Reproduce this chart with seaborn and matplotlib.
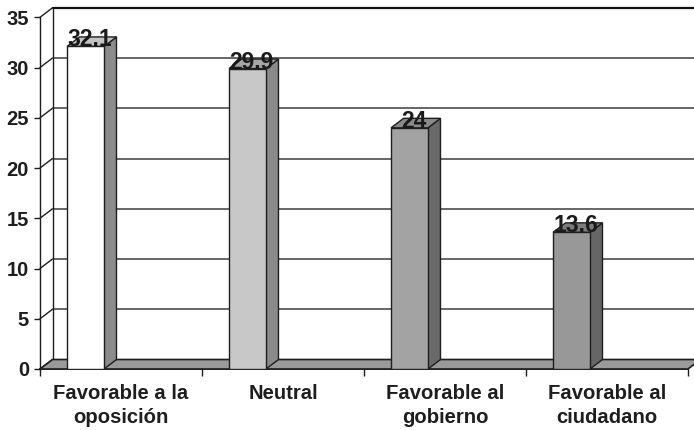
import matplotlib
matplotlib.use("Agg")
import matplotlib.pyplot as plt
from matplotlib.patches import Polygon
import seaborn as sns
import pandas as pd

# Data
categories = ["Favorable a la\noposición", "Neutral", "Favorable al\ngobierno", "Favorable al\nciudadano"]
values = [32.1, 29.9, 24, 13.6]
value_labels = ["32.1", "29.9", "24", "13.6"]
y_ticks = [0, 5, 10, 15, 20, 25, 30, 35]

# Face shades for each column (front, top, side)
front_colors = ["#ffffff", "#c8c8c8", "#a3a3a3", "#989898"]
top_colors = ["#c4c4c4", "#a6a6a6", "#8a8a8a", "#7c7c7c"]
side_colors = ["#8c8c8c", "#8a8a8a", "#6a6a6a", "#666666"]

sns.set_theme(style="white")
plt.rcParams["font.family"] = ["Liberation Sans", "DejaVu Sans"]
plt.rcParams["font.weight"] = "bold"

fig = plt.figure(figsize=(6.94, 4.30), dpi=100)
ax = fig.add_axes([40 / 694, 61 / 430, 648 / 694, (369 - 17.3) / 430])

df = pd.DataFrame({"cat": categories, "val": values})
bar_w = 0.228
shift = -0.219
sns.barplot(data=df, x="cat", y="val", hue="cat", palette=front_colors,
            width=bar_w, legend=False, edgecolor="#1e1e1e", linewidth=1.0,
            saturation=1, ax=ax, zorder=5)

ax.set_xlim(-0.5, 3.5)
ax.set_ylim(0, 35)

# depth offset of the 3-D box, in data units
DX = 12.5 / 162
DY = 9.5 / 10.05
edge = "#1e1e1e"

# back wall gridlines, left wall diagonals
for t in y_ticks:
    ax.plot([-0.5, -0.5 + DX], [t, t + DY], color=edge, lw=1.0, clip_on=False, zorder=2)
    if t == 35:
        ax.plot([-0.5 + DX, 3.5 + DX], [t + DY, t + DY], color="#111111", lw=1.6,
                clip_on=False, zorder=2)
    elif t > 0:
        ax.plot([-0.5 + DX, 3.5 + DX], [t + DY, t + DY], color="#5a5a5a", lw=1.3,
                clip_on=False, zorder=2)
ax.plot([-0.5 + DX, -0.5 + DX], [DY, 35 + DY], color=edge, lw=1.0, clip_on=False, zorder=2)

# floor
floor = Polygon([(-0.5, 0), (3.5, 0), (3.5 + DX, DY), (-0.5 + DX, DY)], closed=True,
                facecolor="#9a9a9a", edgecolor=edge, lw=1.2, clip_on=False, zorder=3)

# columns: shift front faces, then add side and top faces
bars = list(ax.patches)
ax.add_patch(floor)
for i, p in enumerate(bars):
    p.set_x(p.get_x() + shift)
    x0 = p.get_x()
    x1 = x0 + p.get_width()
    v = p.get_height()
    side = Polygon([(x1, 0), (x1 + DX, DY), (x1 + DX, v + DY), (x1, v)], closed=True,
                   facecolor=side_colors[i], edgecolor=edge, lw=1.0, clip_on=False, zorder=4)
    top = Polygon([(x0, v), (x1, v), (x1 + DX, v + DY), (x0 + DX, v + DY)], closed=True,
                  facecolor=top_colors[i], edgecolor=edge, lw=1.0, clip_on=False, zorder=4)
    ax.add_patch(side)
    ax.add_patch(top)
    ax.text((x0 + x1) / 2 + 0.025, v, value_labels[i], ha="center", va="baseline",
            fontsize=16.5, fontweight="bold", color="#1a1a1a", zorder=8, clip_on=False)

# axes
for s in ["top", "right"]:
    ax.spines[s].set_visible(False)
ax.spines["left"].set_color(edge)
ax.spines["left"].set_linewidth(1.0)
ax.spines["bottom"].set_color(edge)
ax.spines["bottom"].set_linewidth(1.2)
ax.spines["left"].set_zorder(6)

ax.set_yticks(y_ticks)
ax.set_yticklabels([str(t) for t in y_ticks])
ax.tick_params(axis="y", length=4, width=1, color=edge, pad=4, labelsize=14.5,
               labelcolor="#1e1e1e", left=True)
ax.set_xticks(range(len(categories)))
ax.set_xticklabels(categories, fontsize=14.6, fontweight="bold", color="#1e1e1e",
                   linespacing=1.3)
ax.set_xticks([-0.5, 0.5, 1.5, 2.5, 3.5], minor=True)
ax.tick_params(axis="x", which="major", length=0, pad=11)
ax.tick_params(axis="x", which="minor", length=5, width=1, color=edge, bottom=True)
ax.set_xlabel("")
ax.set_ylabel("")
for lab in ax.get_yticklabels():
    lab.set_fontweight("bold")

fig.savefig("out.png", dpi=100)
